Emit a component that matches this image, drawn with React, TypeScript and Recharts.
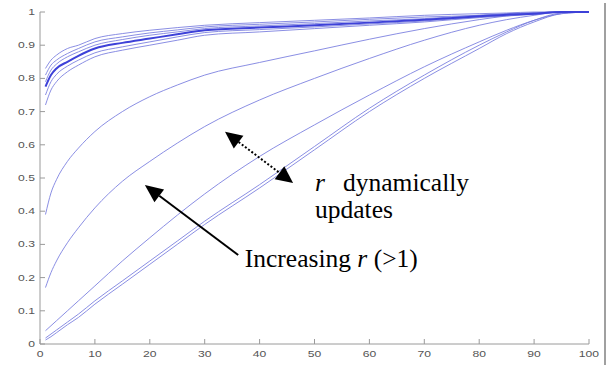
import React from 'react';
import { LineChart, Line, XAxis, YAxis } from 'recharts';

// sample positions along the x axis
const xs = [1, 2, 3, 5, 7, 10, 15, 20, 25, 30, 40, 50, 60, 70, 80, 85, 90, 95, 100];

// upper bundle of curves (r close to 1)
const t1 = [0.83, 0.855, 0.87, 0.89, 0.9, 0.92, 0.935, 0.945, 0.953, 0.96, 0.968, 0.975, 0.982, 0.99, 0.995, 0.997, 1, 1, 1];
const t2 = [0.81, 0.84, 0.855, 0.875, 0.89, 0.91, 0.925, 0.937, 0.946, 0.955, 0.963, 0.97, 0.978, 0.985, 0.99, 0.995, 0.998, 1, 1];
const t3 = [0.79, 0.825, 0.843, 0.865, 0.88, 0.9, 0.917, 0.93, 0.94, 0.95, 0.958, 0.965, 0.973, 0.98, 0.99, 0.994, 0.997, 1, 1];
const t4 = [0.775, 0.81, 0.83, 0.85, 0.868, 0.89, 0.907, 0.92, 0.933, 0.945, 0.953, 0.96, 0.968, 0.977, 0.987, 0.992, 0.995, 1, 1];
const t5 = [0.75, 0.79, 0.812, 0.837, 0.855, 0.877, 0.895, 0.91, 0.925, 0.938, 0.947, 0.955, 0.964, 0.973, 0.985, 0.99, 0.994, 1, 1];
const t6 = [0.72, 0.765, 0.79, 0.82, 0.84, 0.865, 0.885, 0.9, 0.915, 0.93, 0.94, 0.95, 0.96, 0.97, 0.983, 0.988, 0.993, 1, 1];

// curves for increasing r
const ca = [0.39, 0.455, 0.495, 0.55, 0.59, 0.64, 0.7, 0.745, 0.78, 0.81, 0.848, 0.883, 0.918, 0.95, 0.977, 0.988, 0.996, 1, 1];
const cb = [0.17, 0.215, 0.25, 0.305, 0.35, 0.41, 0.49, 0.55, 0.605, 0.655, 0.735, 0.8, 0.86, 0.915, 0.96, 0.977, 0.99, 1, 1];
const cc = [0.04, 0.055, 0.07, 0.1, 0.13, 0.175, 0.25, 0.32, 0.388, 0.452, 0.565, 0.66, 0.75, 0.835, 0.91, 0.945, 0.975, 0.995, 1];
const d1 = [0.012, 0.022, 0.034, 0.058, 0.08, 0.12, 0.18, 0.24, 0.3, 0.36, 0.47, 0.585, 0.7, 0.8, 0.89, 0.935, 0.97, 0.995, 1];
const d2 = [0.018, 0.03, 0.042, 0.066, 0.09, 0.13, 0.19, 0.25, 0.31, 0.37, 0.48, 0.595, 0.71, 0.81, 0.9, 0.94, 0.975, 0.997, 1];

const xTicks = [0, 10, 20, 30, 40, 50, 60, 70, 80, 90, 100];
const yTicks = [0, 0.1, 0.2, 0.3, 0.4, 0.5, 0.6, 0.7, 0.8, 0.9, 1];
const yLabels = ['0', '0.1', '0.2', '0.3', '0.4', '0.5', '0.6', '0.7', '0.8', '0.9', '1'];

const data = xs.map((x, i) => ({
  x,
  t1: t1[i], t2: t2[i], t3: t3[i], t4: t4[i], t5: t5[i], t6: t6[i],
  ca: ca[i], cb: cb[i], cc: cc[i], d1: d1[i], d2: d2[i],
}));

const W = 616;
const H = 365;
const PLOT = { left: 40, right: 589, top: 12, bottom: 344 };
const AXIS = '#9a9a9a';
const LABEL = '#555';

// data coords -> pixels, same box as the chart's plot area
const px = (x: number) => PLOT.left + (x / 100) * (PLOT.right - PLOT.left);
const py = (y: number) => PLOT.bottom - y * (PLOT.bottom - PLOT.top);

const tickText = (x: number, y: number, label: string, anchor: string) => (
  <g transform={`translate(${x},${y}) scale(1.35,1)`}>
    <text x={0} y={0} textAnchor={anchor} fontSize={9} fill={LABEL} fontFamily="Liberation Sans, Arial, sans-serif">
      {label}
    </text>
  </g>
);

const LeftTick = (props: any) => {
  const { x, y, index } = props;
  return (
    <g>
      <line x1={x + 5} x2={x + 10} y1={y} y2={y} stroke={AXIS} />
      {tickText(x, y + 3, yLabels[index], 'end')}
    </g>
  );
};

const RightTick = (props: any) => {
  const { x, y } = props;
  return <line x1={x - 5} x2={x} y1={y} y2={y} stroke={AXIS} />;
};

const BottomTick = (props: any) => {
  const { x, y, payload } = props;
  return (
    <g>
      <line x1={x} x2={x} y1={y - 5} y2={y} stroke={AXIS} />
      {tickText(x, y + 13, String(payload.value), 'middle')}
    </g>
  );
};

const TopTick = (props: any) => {
  const { x, y } = props;
  return <line x1={x} x2={x} y1={y} y2={y + 5} stroke={AXIS} />;
};

function head(x1: number, y1: number, x2: number, y2: number, len: number, half: number) {
  const dx = x2 - x1;
  const dy = y2 - y1;
  const d = Math.hypot(dx, dy);
  const ux = dx / d;
  const uy = dy / d;
  const bx = x2 - ux * len;
  const by = y2 - uy * len;
  return {
    bx,
    by,
    points: `${x2},${y2} ${bx - uy * half},${by + ux * half} ${bx + uy * half},${by - ux * half}`,
  };
}

function Annotations() {
  // "Increasing r" arrow, tail -> tip
  const ax1 = px(36.1), ay1 = py(0.268), ax2 = px(19.1), ay2 = py(0.479);
  const ha = head(ax1, ay1, ax2, ay2, 18, 8);
  // dotted two-headed arrow
  const bx1 = px(33.7), by1 = py(0.639), bx2 = px(46.1), by2 = py(0.485);
  const hb1 = head(bx2, by2, bx1, by1, 17, 8);
  const hb2 = head(bx1, by1, bx2, by2, 17, 8);
  const serif = 'Liberation Serif, Times New Roman, serif';
  return (
    <svg width={W} height={H} style={{ position: 'absolute', left: 0, top: 0, pointerEvents: 'none' }}>
      <line x1={ax1} y1={ay1} x2={ha.bx} y2={ha.by} stroke="#000" strokeWidth={2} />
      <polygon points={ha.points} fill="#000" />
      <line x1={hb1.bx} y1={hb1.by} x2={hb2.bx} y2={hb2.by} stroke="#000" strokeWidth={2} strokeDasharray="2 2" />
      <polygon points={hb1.points} fill="#000" />
      <polygon points={hb2.points} fill="#000" />
      <text x={px(50.1)} y={py(0.46)} fontSize={25.5} fontFamily={serif} fill="#000">
        <tspan fontStyle="italic">r</tspan>
        <tspan x={px(55.2)}>dynamically</tspan>
      </text>
      <text x={px(50.1)} y={py(0.38)} fontSize={25.5} fontFamily={serif} fill="#000">updates</text>
      <text x={px(37.3)} y={py(0.232)} fontSize={25.5} fontFamily={serif} fill="#000">
        Increasing <tspan fontStyle="italic">r</tspan> (&gt;1)
      </text>
    </svg>
  );
}

const thin = { stroke: '#767ade', strokeWidth: 1, strokeOpacity: 0.85 };

export default function App() {
  return (
    <div style={{ position: 'absolute', left: 0, top: 0, width: W, height: H, background: '#fff' }}>
      <LineChart width={W} height={H} data={data} margin={{ top: PLOT.top, right: W - PLOT.right, left: 0, bottom: 0 }}>
        <XAxis
          dataKey="x"
          type="number"
          domain={[0, 100]}
          ticks={xTicks}
          interval={0}
          height={H - PLOT.bottom}
          tickSize={0}
          tickMargin={0}
          tickLine={false}
          axisLine={{ stroke: AXIS }}
          tick={<BottomTick />}
        />
        <XAxis
          xAxisId="top"
          orientation="top"
          dataKey="x"
          type="number"
          domain={[0, 100]}
          ticks={xTicks}
          interval={0}
          height={0}
          tickSize={0}
          tickMargin={0}
          tickLine={false}
          axisLine={{ stroke: AXIS }}
          tick={<TopTick />}
        />
        <YAxis
          type="number"
          domain={[0, 1]}
          ticks={yTicks}
          interval={0}
          width={PLOT.left}
          tickSize={0}
          tickMargin={5}
          tickLine={false}
          axisLine={{ stroke: AXIS }}
          tick={<LeftTick />}
        />
        <YAxis
          yAxisId="right"
          orientation="right"
          type="number"
          domain={[0, 1]}
          ticks={yTicks}
          interval={0}
          width={0}
          tickSize={0}
          tickMargin={0}
          tickLine={false}
          axisLine={{ stroke: AXIS }}
          tick={<RightTick />}
        />
        <Line type="monotone" dataKey="d1" dot={false} isAnimationActive={false} {...thin} />
        <Line type="monotone" dataKey="d2" dot={false} isAnimationActive={false} {...thin} />
        <Line type="monotone" dataKey="cc" dot={false} isAnimationActive={false} {...thin} />
        <Line type="monotone" dataKey="cb" dot={false} isAnimationActive={false} {...thin} />
        <Line type="monotone" dataKey="ca" dot={false} isAnimationActive={false} {...thin} />
        <Line type="monotone" dataKey="t6" dot={false} isAnimationActive={false} {...thin} />
        <Line type="monotone" dataKey="t5" dot={false} isAnimationActive={false} {...thin} />
        <Line type="monotone" dataKey="t3" dot={false} isAnimationActive={false} {...thin} />
        <Line type="monotone" dataKey="t2" dot={false} isAnimationActive={false} {...thin} />
        <Line type="monotone" dataKey="t1" dot={false} isAnimationActive={false} {...thin} />
        <Line type="monotone" dataKey="t4" dot={false} isAnimationActive={false} stroke="#3d41d8" strokeWidth={2} />
      </LineChart>
      <div style={{ position: 'absolute', left: 604, top: 3, width: 2, height: H - 3, background: '#a0a0a0' }} />
      <Annotations />
    </div>
  );
}
